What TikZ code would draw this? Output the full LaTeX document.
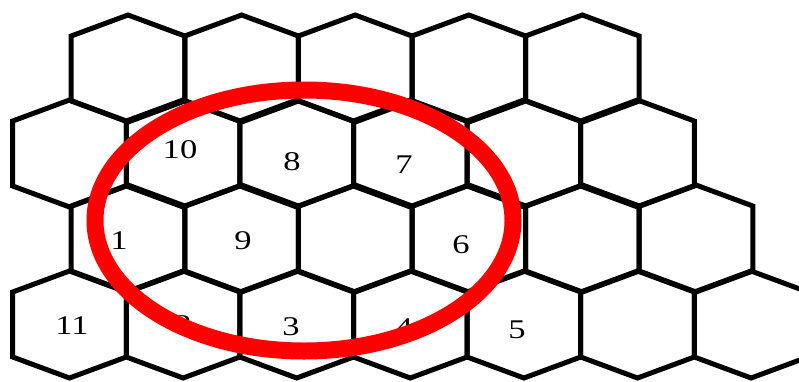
\documentclass[tikz,border=0pt]{standalone}
\usepackage{fontspec}
\setmainfont{Liberation Serif}

\begin{document}
\begin{tikzpicture}[x=1pt, y=-1pt,
  cell/.style={black, line width=5pt, line join=miter},
  lbl/.style={font=\fontsize{27}{27}\selectfont, xscale=1.28, inner sep=0pt},
  ring/.style={red, line width=17pt}]
\useasboundingbox (0,0) rectangle (799,381);
% rows of cells: centre y / first centre x / last index
\foreach \cy/\cx/\n in {68.5/128/4, 153.5/69.5/5, 238.5/128/5, 324.5/69.5/6}
  \foreach \i in {0,...,\n}
    \draw[cell] (\cx+\i*113.6, \cy-53.5) -- ++(56.8,21) -- ++(0,65) -- ++(-56.8,21)
      -- ++(-56.8,-21) -- ++(0,-65) -- cycle;

\node[lbl] (n10) at (180,150) {10};
\node[lbl] (n8) at (292,162) {8};
\node[lbl] (n7) at (404,165) {7};
\node[lbl] (n1) at (119,241) {1};
\node[lbl] (n9) at (243,241) {9};
\node[lbl] (n6) at (461,245) {6};
\node[lbl] (n11) at (72,326) {11};
\node[lbl] (n2) at (183,325) {2};
\node[lbl] (n3) at (291,327) {3};
\node[lbl] (n4) at (404,328) {4};
\node[lbl] (n5) at (517,330) {5};

\draw[ring] (304,220.5) ellipse [x radius=209, y radius=130.5];
\end{tikzpicture}
\end{document}
